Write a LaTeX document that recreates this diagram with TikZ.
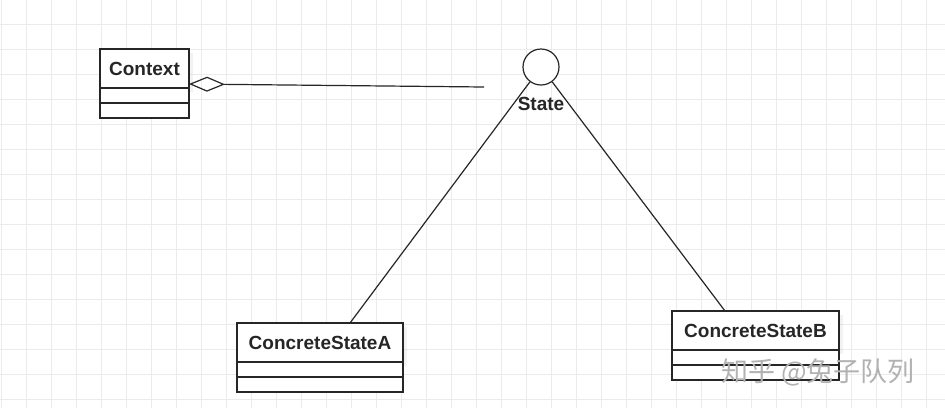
\documentclass[tikz,border=0pt]{standalone}
\usepackage{fontspec}
\setmainfont{Liberation Sans}
\newfontfamily\cjk{Noto Sans CJK SC}
\usepackage{tikz}
\usetikzlibrary{positioning,arrows.meta,shadows}

\begin{document}
\begin{tikzpicture}[x=1pt, y=-1pt,
  gridline/.style={draw=black!8, line width=0.8pt},
  classname/.style={draw=black!85, line width=1.2pt, fill=white, outer sep=0pt, inner sep=0pt,
    minimum height=39pt, text=black!85, font=\fontsize{19}{22}\selectfont\bfseries,
    drop shadow={opacity=0.1, shadow xshift=4pt, shadow yshift=-4pt}},
  classpart/.style={draw=black!85, line width=1.2pt, fill=white, outer sep=0pt, inner sep=0pt,
    minimum height=15pt},
  link/.style={draw=black!85, line width=1.2pt}]
  \useasboundingbox (0,0) rectangle (945,408);
  \fill[white] (0,0) rectangle (945,408);
  % background grid
  \foreach \gx in {0,...,37}
    \draw[gridline] (1.7+25*\gx,0) -- (1.7+25*\gx,408);
  \foreach \gy in {1,...,16}
    \draw[gridline] (0,-1+25*\gy) -- (945,-1+25*\gy);

  % classes
  \node[classname, minimum width=89pt] (ctx) at (144.5,68.5) {Context};
  \node[classpart, minimum width=89pt, below=0pt of ctx] (ctx1) {};
  \node[classpart, minimum width=89pt, below=0pt of ctx1] (ctx2) {};

  \node[classname, minimum width=166pt] (csa) at (320,342.5) {ConcreteStateA};
  \node[classpart, minimum width=166pt, below=0pt of csa] (csa1) {};
  \node[classpart, minimum width=166pt, below=0pt of csa1] (csa2) {};

  \node[classname, minimum width=167pt] (csb) at (755.5,330.5) {ConcreteStateB};
  \node[classpart, minimum width=167pt, below=0pt of csb] (csb1) {};
  \node[classpart, minimum width=167pt, below=0pt of csb1] (csb2) {};

  % interface
  \node[circle, draw=black!85, line width=1.2pt, fill=white, minimum size=36pt, inner sep=0pt] (state) at (541,67) {};
  \coordinate (ctxend) at (484,87);

  \draw[link, {Diamond[open, length=36pt, width=15pt, line width=1.2pt]}-] ([yshift=4pt]ctx.south east) -- (ctxend);
  \draw[link] (state) -- ([xshift=30pt]csa.north);
  \draw[link] (state) -- ([xshift=-30.5pt]csb.north);

  \node[text=black!85, font=\fontsize{19}{22}\selectfont\bfseries] (statelbl) at (541,104) {State};

  \node[text=black!30, font=\cjk\fontsize{27}{30}\selectfont] (mark) at (818,372) {知乎 @兔子队列};
\end{tikzpicture}
\end{document}
